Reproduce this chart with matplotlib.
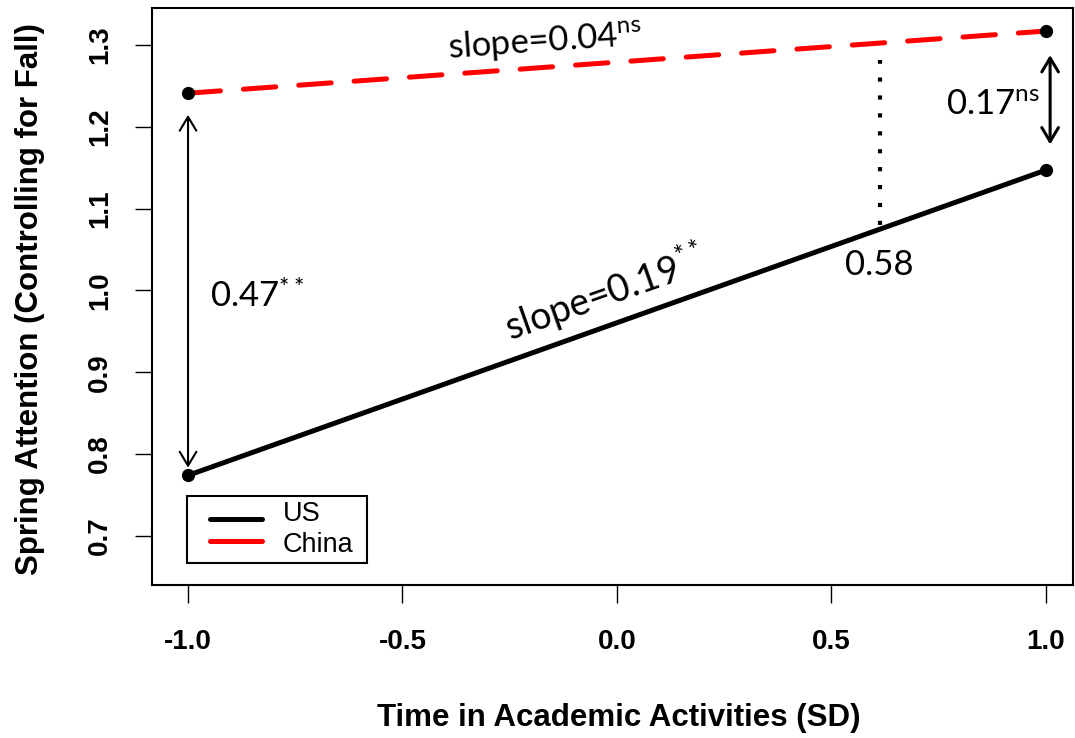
import matplotlib
matplotlib.use('Agg')
import matplotlib.pyplot as plt
from matplotlib.patches import FancyArrowPatch, Rectangle
from matplotlib.lines import Line2D

# data
xvals = [-1.0, 1.0]
us = [0.774, 1.147]
china = [1.241, 1.317]
xticks = [-1.0, -0.5, 0.0, 0.5, 1.0]
yticks = [0.7, 0.8, 0.9, 1.0, 1.1, 1.2, 1.3]
jn_x = 0.613          # region-of-significance line
jn_y = [1.080, 1.282]

plt.rcParams['font.family'] = ['Liberation Sans', 'DejaVu Sans']
plt.rcParams['mathtext.fontset'] = 'custom'
plt.rcParams['mathtext.rm'] = 'Lato'
plt.rcParams['mathtext.it'] = 'Lato:italic'
ann = dict(family='Lato', fontsize=25, color='black')

fig = plt.figure(figsize=(10.75, 7.38), dpi=100)
ax = fig.add_axes([0.1414, 0.2073, 0.8566, 0.7817])

ax.plot(xvals, china, color='red', lw=3.6, dashes=(6.5, 4.6),
        dash_capstyle='round', zorder=3)
ax.plot(xvals, us, color='black', lw=3.6, solid_capstyle='round', zorder=3)
ax.plot(xvals, china, 'o', color='black', ms=8.5, zorder=4)
ax.plot(xvals, us, 'o', color='black', ms=8.5, zorder=4)

ax.plot([jn_x, jn_x], jn_y, color='black', lw=3, linestyle=(0, (1, 3.3)))

# difference arrows
ax.add_patch(FancyArrowPatch((-1.0, 0.780), (-1.0, 1.218),
                             arrowstyle='<->,head_length=10,head_width=6',
                             lw=1.5, color='black', mutation_scale=1, zorder=2))
ax.add_patch(FancyArrowPatch((1.01, 1.175), (1.01, 1.291),
                             arrowstyle='<->,head_length=10,head_width=6',
                             lw=2.2, color='black', mutation_scale=1, zorder=2))

ax.text(-0.168, 1.304, r'slope=0.04$^{\mathrm{ns}}$', rotation=4,
        ha='center', va='center', **ann)
ax.text(-0.030, 0.998, r'slope=0.19$^{\mathrm{**}}$', rotation=19.5,
        ha='center', va='center', family='Lato', fontsize=27)
ax.text(-0.949, 0.994, r'0.47$^{\mathrm{**}}$', ha='left', va='center', **ann)
ax.text(0.531, 1.031, '0.58', ha='left', va='center', **ann)
ax.text(0.767, 1.227, r'0.17$^{\mathrm{ns}}$', ha='left', va='center', **ann)

ax.set_xlim(-1.084, 1.063)
ax.set_ylim(0.640, 1.345)
ax.set_xticks(xticks)
ax.set_xticklabels(['%.1f' % v for v in xticks], fontsize=20, fontweight='bold')
ax.set_yticks(yticks)
ax.set_yticklabels(['%.1f' % v for v in yticks], fontsize=20, fontweight='bold',
                   rotation=90, va='center')
ax.tick_params(axis='x', length=13, width=1, pad=19)
ax.tick_params(axis='y', length=12, width=1, pad=16)
for s in ax.spines.values():
    s.set_linewidth(1.5)

fig.text(619 / 1075, 1 - 718 / 738, 'Time in Academic Activities (SD)',
         fontsize=22.5, fontweight='bold', ha='center', va='center')
fig.text(30 / 1075, 1 - 299 / 738, 'Spring Attention (Controlling for Fall)',
         fontsize=22.5, fontweight='bold', ha='center', va='center', rotation=90)

# legend box
ax.add_patch(Rectangle((0.038, 0.038), 0.1954, 0.116, transform=ax.transAxes,
                       fill=False, lw=1.5, edgecolor='black', zorder=5))
ax.add_line(Line2D([0.063, 0.1194], [0.1144, 0.1144], transform=ax.transAxes,
                   color='black', lw=3.6, solid_capstyle='round', zorder=5))
ax.add_line(Line2D([0.063, 0.1194], [0.0763, 0.0763], transform=ax.transAxes,
                   color='red', lw=3.6, solid_capstyle='round', zorder=5))
ax.text(0.142, 0.1235, 'US', transform=ax.transAxes, fontsize=19.5,
        ha='left', va='center', zorder=5)
ax.text(0.142, 0.0685, 'China', transform=ax.transAxes, fontsize=19.5,
        ha='left', va='center', zorder=5)

fig.savefig('out.png', dpi=100)
